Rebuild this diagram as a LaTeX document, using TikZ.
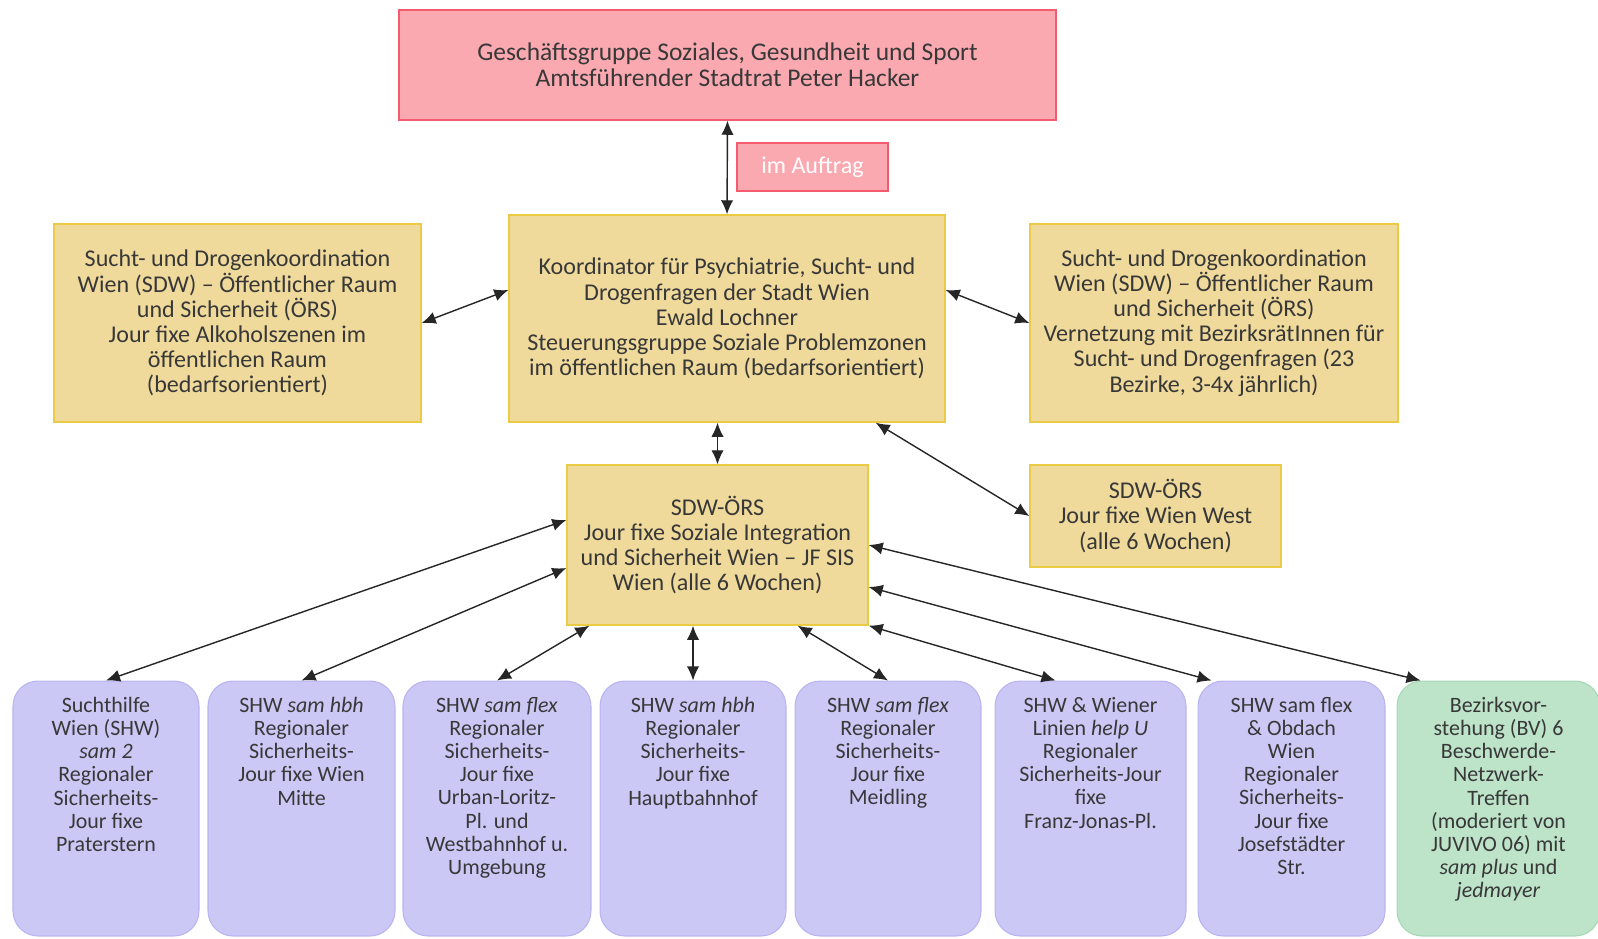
\documentclass[tikz,border=0pt]{standalone}
\usepackage{fontspec}
\setmainfont{Carlito}
\usetikzlibrary{arrows.meta}

\definecolor{pinkfill}{HTML}{FBA9B1}
\definecolor{pinkline}{HTML}{F25C6E}
\definecolor{sandfill}{HTML}{EFDA9B}
\definecolor{sandline}{HTML}{EBCB45}
\definecolor{lilafill}{HTML}{CBC8F6}
\definecolor{lilaline}{HTML}{B9B4F0}
\definecolor{mintfill}{HTML}{BDE3C9}
\definecolor{mintline}{HTML}{A6D8B5}
\definecolor{ink}{HTML}{383838}

\newcommand{\regtext}[1]{\parbox[c][4.7cm][t]{3.7cm}{\centering\fontsize{12.5}{13.2}\selectfont\vspace*{0.12cm}#1}}

\begin{document}
\begin{tikzpicture}[x=0.02cm,y=-0.02cm,
    stadt/.style={draw=pinkline,fill=pinkfill,line width=0.8pt,text=ink,align=center,font=\fontsize{14.5}{15}\selectfont},
    koord/.style={draw=sandline,fill=sandfill,line width=0.8pt,text=ink,align=center,font=\fontsize{13.7}{14.3}\selectfont},
    region/.style={draw=lilaline,fill=lilafill,line width=0.6pt,rounded corners=0.5cm,text=ink,inner xsep=0pt,inner ysep=0.2cm,minimum height=5.1cm},
    bezirk/.style={region,draw=mintline,fill=mintfill},
    link/.style={{Latex[length=8pt,width=7pt]}-{Latex[length=8pt,width=7pt]},line width=0.8pt,black!85}]
          \useasboundingbox (0,0) rectangle (1598,938);
          % top
          \node[stadt,minimum width=13.14cm,minimum height=2.2cm] (gg) at (727.5,65)
            {Geschäftsgruppe Soziales, Gesundheit und Sport\\Amtsführender Stadtrat Peter Hacker};
          \node[stadt,text=white,font=\fontsize{13.7}{14.3}\selectfont,minimum width=3.02cm,minimum height=0.96cm] (auftrag) at (812.5,167) {im Auftrag};
          % middle
          \node[koord,minimum width=8.72cm,minimum height=4.14cm] (kpsd) at (727,318.5)
            {Koordinator für Psychiatrie, Sucht- und\\Drogenfragen der Stadt Wien\\Ewald Lochner\\Steuerungsgruppe Soziale Problemzonen\\im öffentlichen Raum (bedarfsorientiert)};
          \node[koord,minimum width=7.34cm,minimum height=3.96cm] (sdwl) at (237.5,323)
            {Sucht- und Drogenkoordination\\Wien (SDW) -- Öffentlicher Raum\\und Sicherheit (ÖRS)\\Jour fixe Alkoholszenen im\\öffentlichen Raum\\(bedarfsorientiert)};
          \node[koord,minimum width=7.36cm,minimum height=3.96cm] (sdwr) at (1214,323)
            {Sucht- und Drogenkoordination\\Wien (SDW) -- Öffentlicher Raum\\und Sicherheit (ÖRS)\\Vernetzung mit BezirksrätInnen für\\Sucht- und Drogenfragen (23\\Bezirke, 3-4x jährlich)};
          \node[koord,minimum width=6.02cm,minimum height=3.2cm] (jfsis) at (717.5,545)
            {SDW-ÖRS\\Jour fixe Soziale Integration\\und Sicherheit Wien -- JF SIS\\Wien (alle 6 Wochen)};
          \node[koord,minimum width=5.02cm,minimum height=2.04cm] (jfwest) at (1155.5,516)
            {SDW-ÖRS\\Jour fixe Wien West\\(alle 6 Wochen)};
          % regional
          \node[region,minimum width=3.72cm] (r1) at (106,808.5)
            {\regtext{Suchthilfe\\Wien (SHW)\\\textit{sam 2}\\Regionaler\\Sicherheits-\\Jour fixe\\Praterstern}};
          \node[region,minimum width=3.74cm] (r2) at (301.5,808.5)
            {\regtext{SHW \textit{sam hbh}\\Regionaler\\Sicherheits-\\Jour fixe Wien\\Mitte}};
          \node[region,minimum width=3.76cm] (r3) at (497,808.5)
            {\regtext{SHW \textit{sam flex}\\Regionaler\\Sicherheits-\\Jour fixe\\Urban-Loritz-\\Pl. und\\Westbahnhof u.\\Umgebung}};
          \node[region,minimum width=3.72cm] (r4) at (693,808.5)
            {\regtext{SHW \textit{sam hbh}\\Regionaler\\Sicherheits-\\Jour fixe\\Hauptbahnhof}};
          \node[region,minimum width=3.72cm] (r5) at (888,808.5)
            {\regtext{SHW \textit{sam flex}\\Regionaler\\Sicherheits-\\Jour fixe\\Meidling}};
          \node[region,minimum width=3.82cm] (r6) at (1090.5,808.5)
            {\regtext{SHW \& Wiener\\Linien \textit{help U}\\Regionaler\\Sicherheits-Jour\\fixe\\Franz-Jonas-Pl.}};
          \node[region,minimum width=3.74cm] (r7) at (1291.5,808.5)
            {\regtext{SHW sam flex\\\& Obdach\\Wien\\Regionaler\\Sicherheits-\\Jour fixe\\Josefstädter\\Str.}};
          \node[bezirk,minimum width=4.06cm] (bv6) at (1498.5,808.5)
            {\regtext{Bezirksvor-\\stehung (BV) 6\\Beschwerde-\\Netzwerk-\\Treffen\\(moderiert von\\JUVIVO 06) mit\\\textit{sam plus} und\\\textit{jedmayer}}};
          % arrows
          \draw[link] (gg.south) -- (kpsd.north);
          \draw[link] (sdwl.east) -- ([yshift=0.57cm]kpsd.west);
          \draw[link] ([yshift=0.57cm]kpsd.east) -- (sdwr.west);
          \draw[link] (kpsd.south -| jfsis.north) -- (jfsis.north);
          \draw[link] ([xshift=-1.4cm]kpsd.south east) -- (jfwest.west);
          \draw[link] (r1.north) -- ([yshift=0.5cm]jfsis.west);
          \draw[link] (r2.north) -- ([yshift=-0.46cm]jfsis.west);
          \draw[link] (r3.north) -- ([xshift=0.46cm]jfsis.south west);
          \draw[link] (r4.north) -- (r4.north |- jfsis.south);
          \draw[link] (r5.north) -- ([xshift=-1.42cm]jfsis.south east);
          \draw[link] ([xshift=-0.7cm]r6.north) -- (jfsis.south east);
          \draw[link] ([xshift=-1.6cm]r7.north) -- ([yshift=-0.84cm]jfsis.east);
          \draw[link] ([xshift=-1.56cm]bv6.north) -- (jfsis.east);
        \end{tikzpicture}
\end{document}
